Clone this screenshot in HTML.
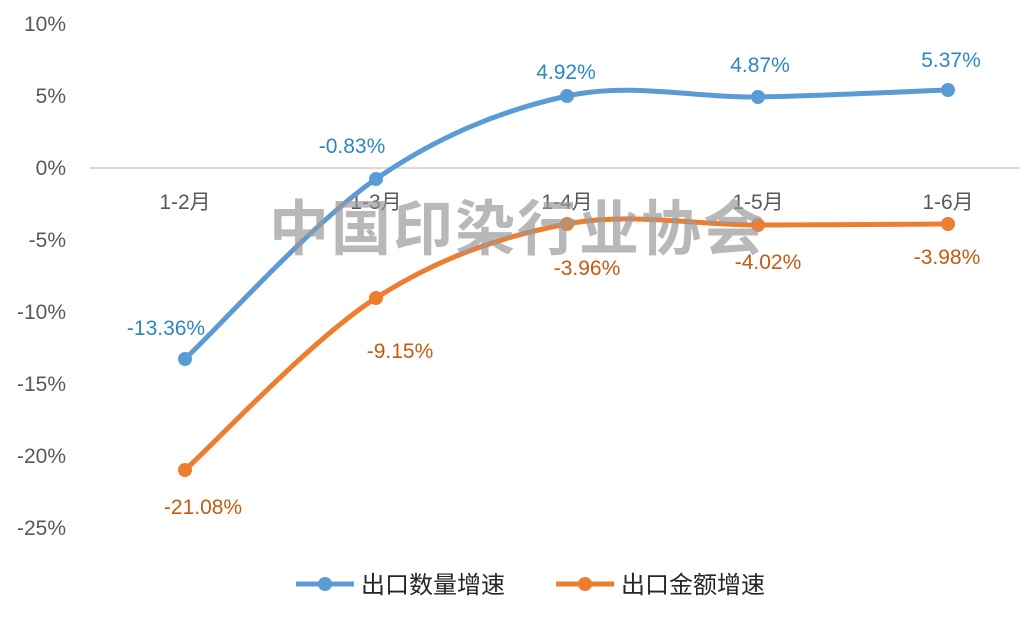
<!DOCTYPE html>
<html><head><meta charset="utf-8"><style>
body{margin:0;background:#fff;width:1024px;height:616px;overflow:hidden}
text{font-family:"Liberation Sans","Noto Sans CJK SC",sans-serif}
</style></head><body>
<svg width="1024" height="616" viewBox="0 0 1024 616">
<g font-size="21" fill="#595959" text-anchor="end">
<text x="66" y="31">10%</text><text x="66" y="103">5%</text><text x="66" y="175">0%</text>
<text x="66" y="247">-5%</text><text x="66" y="319">-10%</text><text x="66" y="391">-15%</text>
<text x="66" y="463">-20%</text><text x="66" y="535">-25%</text>
</g>
<line x1="90" y1="168" x2="1020" y2="168" stroke="#d9d9d9" stroke-width="2"/>
<g font-size="21" fill="#595959" text-anchor="middle">
<text x="185" y="209">1-2月</text><text x="376" y="209">1-3月</text><text x="567" y="209">1-4月</text>
<text x="758" y="209">1-5月</text><text x="948" y="209">1-6月</text>
</g>
<path d="M185,359 C217,329 312,223 376,179 C440,135 503,110 567,96 C631,82 695,98 758,97 C821,96 916,91 948,90" fill="none" stroke="#5b9bd5" stroke-width="5"/>
<path d="M185,470 C217,441 312,339 376,298 C440,257 503,236 567,224 C631,212 695,225 758,225 C821,225 916,224 948,224" fill="none" stroke="#ed7d31" stroke-width="5"/>
<g fill="#5b9bd5"><circle cx="185" cy="359" r="7"/><circle cx="376" cy="179" r="7"/><circle cx="567" cy="96" r="7"/><circle cx="758" cy="97" r="7"/><circle cx="948" cy="90" r="7"/></g>
<g fill="#ed7d31"><circle cx="185" cy="470" r="7"/><circle cx="376" cy="298" r="7"/><circle cx="567" cy="224" r="7"/><circle cx="758" cy="225" r="7"/><circle cx="948" cy="224" r="7"/></g>
<text x="517" y="250" font-size="60" font-weight="bold" fill="#9a9a9a" fill-opacity="0.7" text-anchor="middle" letter-spacing="2">中国印染行业协会</text>
<g font-size="21" fill="#2e86c1" text-anchor="middle">
<text x="166" y="335">-13.36%</text><text x="352" y="153">-0.83%</text><text x="566" y="79">4.92%</text>
<text x="760" y="72">4.87%</text><text x="951" y="67">5.37%</text>
</g>
<g font-size="21" fill="#c55a11" text-anchor="middle">
<text x="203" y="514">-21.08%</text><text x="400" y="358">-9.15%</text><text x="587" y="275">-3.96%</text>
<text x="768" y="269">-4.02%</text><text x="947" y="264">-3.98%</text>
</g>
<line x1="296" y1="584" x2="354" y2="584" stroke="#5b9bd5" stroke-width="5"/><circle cx="325" cy="584" r="7" fill="#5b9bd5"/>
<text x="361" y="593" font-size="24" fill="#262626">出口数量增速</text>
<line x1="556" y1="584" x2="614" y2="584" stroke="#ed7d31" stroke-width="5"/><circle cx="585" cy="584" r="7" fill="#ed7d31"/>
<text x="621" y="593" font-size="24" fill="#262626">出口金额增速</text>
</svg>
</body></html>
